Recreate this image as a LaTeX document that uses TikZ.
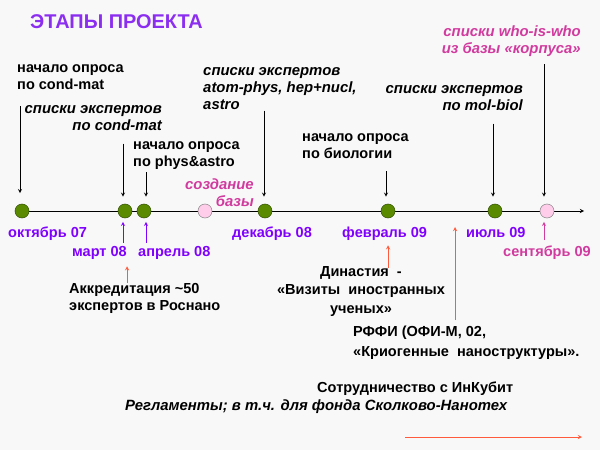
\documentclass[tikz,border=0pt]{standalone}
\usepackage{fontspec}
\setmainfont{Liberation Sans}
\usetikzlibrary{calc}
\definecolor{bgcol}{HTML}{F8F8F8}
\definecolor{titlecol}{HTML}{8C2EF0}
\definecolor{datecol}{HTML}{8000FF}
\definecolor{pinkcol}{HTML}{D13A9E}
\definecolor{hotcol}{HTML}{FF5A3C}
\definecolor{evfill}{HTML}{5A8A00}
\definecolor{evdraw}{HTML}{2E4A00}
\definecolor{pevfill}{HTML}{FFCCEA}
\begin{document}
\begin{tikzpicture}[
        x=0.03cm, y=-0.03cm,
        every node/.style={inner sep=0pt, font=\fontsize{12.4}{14.5}\selectfont\bfseries},
        txt/.style={align=left, execute at begin node=\strut},
        txtr/.style={align=right, execute at begin node=\strut},
        slant/.append style={font=\fontsize{12.7}{14.5}\selectfont\bfseries\itshape},
        date/.style={text=datecol},
        ev/.style={circle, minimum size=12pt, draw=evdraw, fill=evfill, thin},
        pev/.style={circle, minimum size=12pt, draw=gray, fill=pevfill, thin},
        axis/.style={semithick, ->, >=stealth},
        down/.style={semithick, ->, >=stealth, shorten >=6pt},
        up/.style={semithick, ->, >=stealth, shorten >=3pt},
        hot/.style={semithick, ->, >=stealth, hotcol}
    ]
    \fill[bgcol] (0,0) rectangle (600,450);
    \useasboundingbox (0,0) rectangle (600,450);
    \node[anchor=base west, text=titlecol, font=\fontsize{17}{18}\selectfont\bfseries] (title) at (30,29) {ЭТАПЫ ПРОЕКТА};
    % time axis
    \coordinate (t0) at (22,211);
    \coordinate (tend) at (584,211);
    \draw[axis] (t0) -- (tend);
    \node[ev] (c1) at (22,211) {};
    \node[ev] (c2) at (125,211) {};
    \node[ev] (c3) at (144,211) {};
    \node[pev] (c4) at (205,211) {};
    \node[ev] (c5) at (265,211) {};
    \node[ev] (c6) at (388,211) {};
    \node[ev] (c7) at (495,211) {};
    \node[pev] (c8) at (547,211) {};
    % dates
    \node[date, anchor=base west] (o07) at (8,237) {октябрь 07};
    \node[date, anchor=base east] (m08) at (127,256) {март 08};
    \node[date, anchor=base west] (a08) at (138,256) {апрель 08};
    \node[date, anchor=base west] (d08) at (232,237) {декабрь 08};
    \node[date, anchor=base west] (f09) at (342,237) {февраль 09};
    \node[date, anchor=base west] (j09) at (466,237) {июль 09};
    \node[text=pinkcol, anchor=base west] (s09) at (503,256) {сентябрь 09};
    \draw[up, datecol] ($(c2 |- m08.north)+(-2,-3)$) -- ($(c2.south)+(-2,0)$);
    \draw[up, datecol] ($(c3 |- a08.north)+(2,-3)$) -- ($(c3.south)+(2,0)$);
    \draw[up, pinkcol] ($(c8 |- s09.north)+(-3,-5)$) -- ($(c8.south)+(-3,0)$);
    % upper texts
    \node[txt, anchor=north west] (t1) at (17,64) {начало опроса\\по cond-mat};
    \node[txtr, slant, anchor=north east] (t2) at (162,105) {списки экспертов\\по cond-mat};
    \node[txt, anchor=north west] (t3) at (133,141) {начало опроса\\по phys\&astro};
    \node[txtr, slant, text=pinkcol, anchor=north east] (t4) at (254,178) {создание\\базы};
    \node[txt, slant, anchor=north west] (t5) at (203,67) {списки экспертов\\atom-phys, hep+nucl,\\astro};
    \node[txt, anchor=north west] (t6) at (302,133) {начало опроса\\по биологии};
    \node[txtr, slant, anchor=north east] (t7) at (523,85) {списки экспертов\\по mol-biol};
    \node[txtr, slant, text=pinkcol, anchor=north east] (t8) at (581,25) {списки who-is-who\\из базы «корпуса»};
    \draw[down, shorten >=9pt] ($(c1 |- t1.south)+(-2,12)$) -- ($(c1.north)+(-2,0)$);
    \draw[down] ($(c2 |- t2.south)+(-2,8)$) -- ($(c2.north)+(-2,0)$);
    \draw[down] ($(c3 |- t3.south)+(2,1)$) -- ($(c3.north)+(2,0)$);
    \draw[down] ($(c5 |- t5.south)+(-1,-4)$) -- ($(c5.north)+(-1,0)$);
    \draw[down] ($(c6 |- t6.south)+(-2,8)$) -- ($(c6.north)+(-2,0)$);
    \draw[down] ($(c7 |- t7.south)+(-2,8)$) -- ($(c7.north)+(-2,0)$);
    \draw[down] ($(c8 |- t8.south)+(-3,6)$) -- ($(c8.north)+(-3,0)$);
    % lower texts
    \node[txt, anchor=north west] (n1) at (69,283) {Аккредитация \textasciitilde50\\экспертов в Роснано};
    \node[align=center, font=\fontsize{12.4}{16}\selectfont\bfseries, execute at begin node=\strut, anchor=north] (n2) at (361,266) {Династия~~-\\«Визиты~~иностранных\\ученых»};
    \node[txt, font=\fontsize{12.4}{17}\selectfont\bfseries, anchor=north west] (n3) at (353,326) {РФФИ (ОФИ-М, 02,\\«Криогенные~~наноструктуры».};
    \node[anchor=base west] (n4) at (317,392) {Сотрудничество с ИнКубит};
    \node[slant, anchor=base west] (n5) at (125,410) {Регламенты; в т.ч. для фонда Сколково-Нанотех};
    \coordinate (r1) at (455,227);
    \coordinate (h1) at (405,437);
    \coordinate (h2) at (582,437);
    \draw[hot] (m08.east |- n1.north) -- ($(m08.south east)+(0,7)$);
    \draw[hot] ($(c6 |- n2.north)+(0,2)$) -- ($(c6 |- f09.south)+(0,5)$);
    \draw[hot] ($(r1 |- n3.north)+(0,-6)$) -- (r1);
    \draw[hot] (h1) -- (h2);
\end{tikzpicture}
\end{document}
